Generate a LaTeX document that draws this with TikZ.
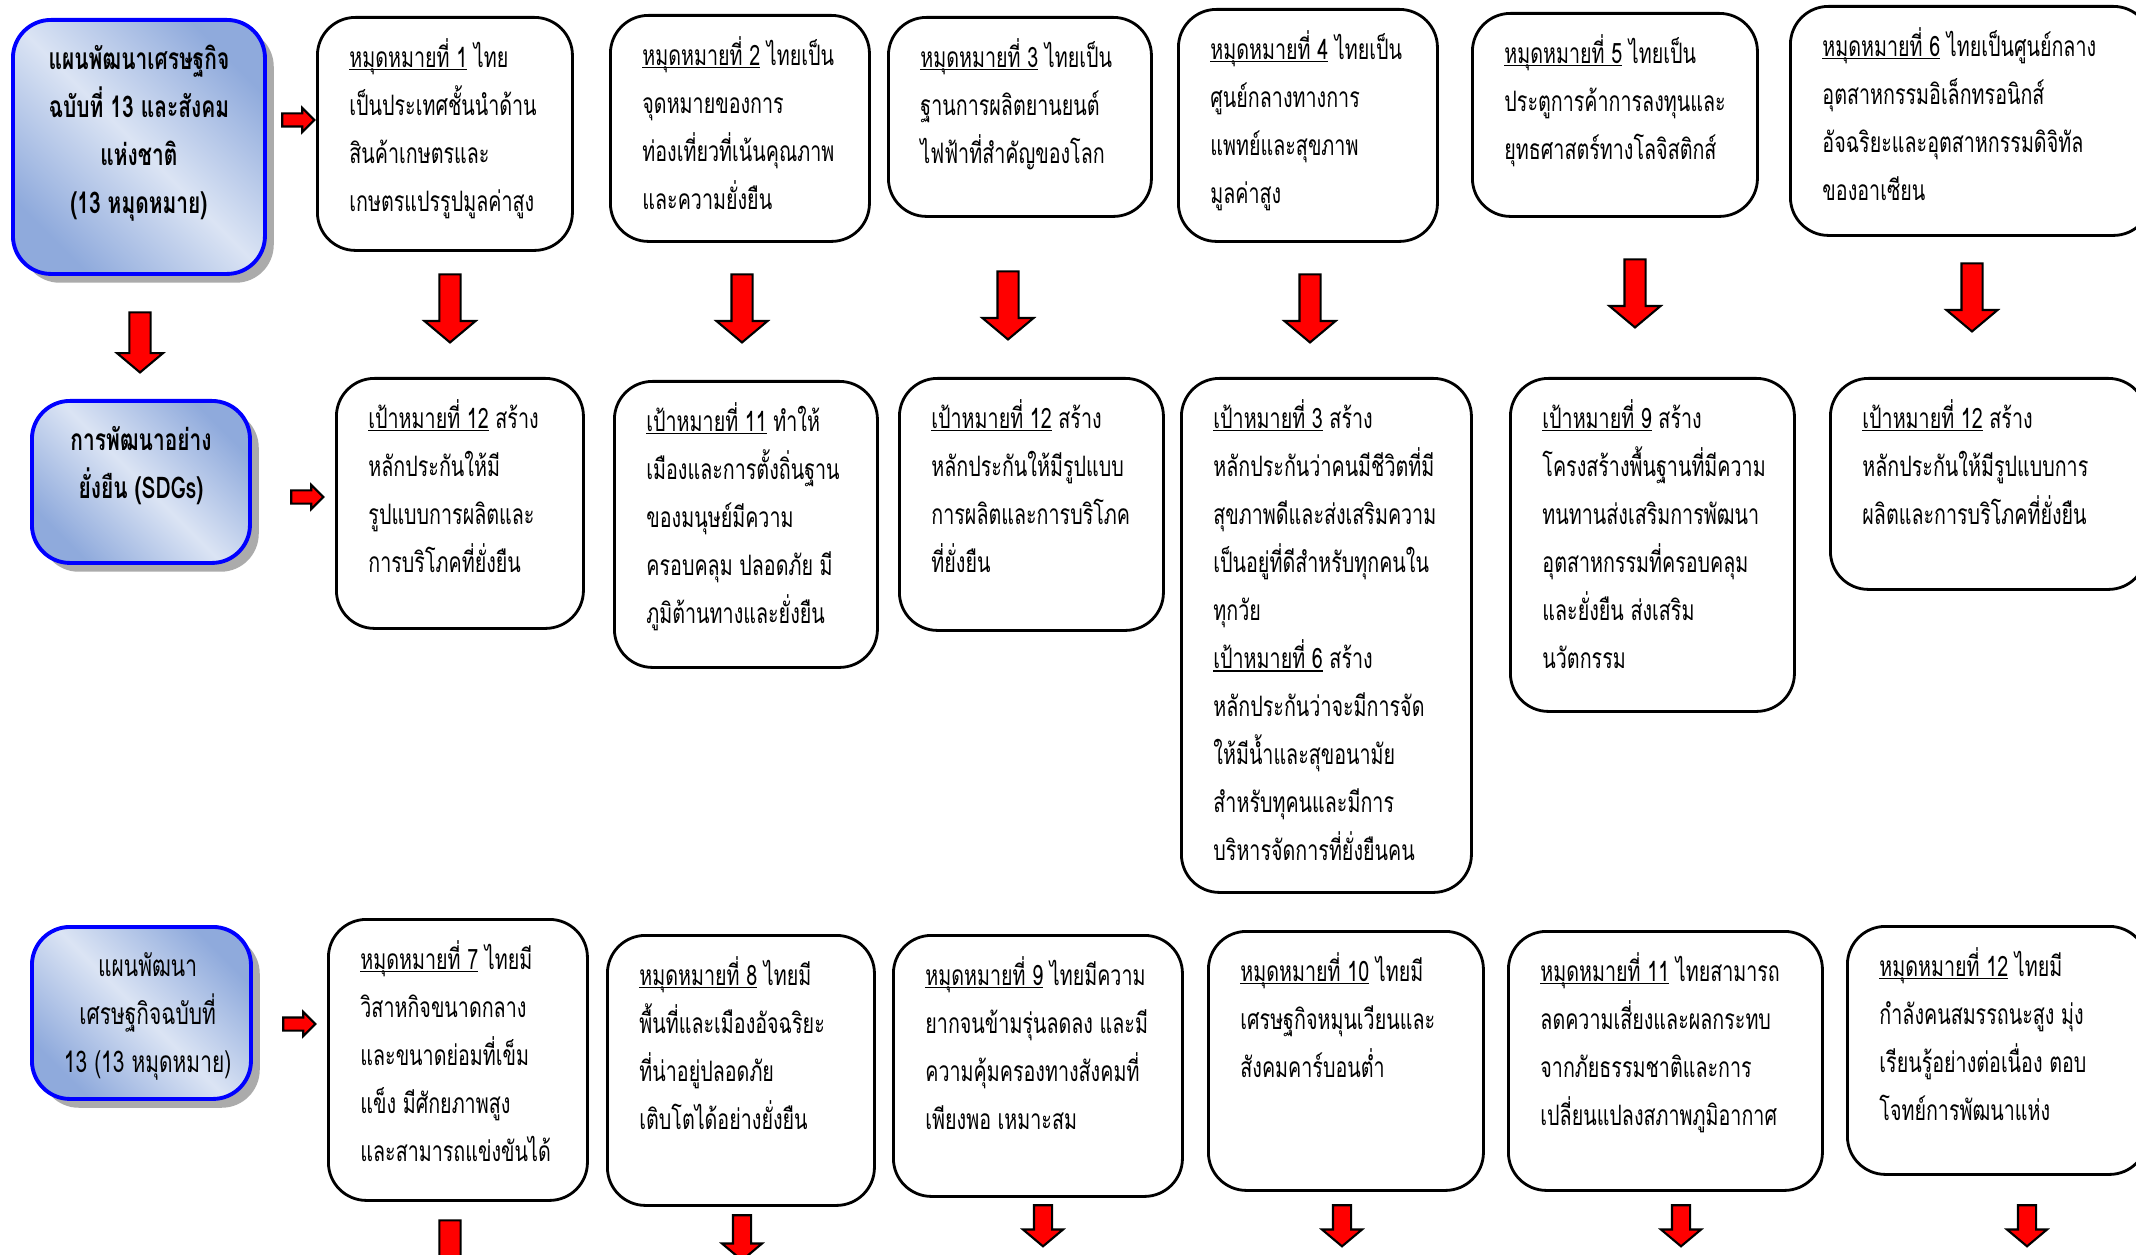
\documentclass[tikz,border=0pt]{standalone}
\usepackage{fontspec}
\setmainfont[Script=Thai, FakeStretch=0.7]{Loma}
\usetikzlibrary{shapes.arrows,shadows}

\definecolor{planblue}{RGB}{0,0,255}
\definecolor{shadedark}{RGB}{143,170,220}
\definecolor{shadelight}{RGB}{219,228,244}
\definecolor{arrowred}{RGB}{255,0,0}

\newlength{\pxu}
\setlength{\pxu}{0.01cm}

% box text: width, height (px), lines
\newcommand{\goaltext}[3]{\parbox[c][\dimexpr#2\pxu-32\pxu\relax][t]{\dimexpr#1\pxu-64\pxu\relax}{%
  \fontsize{8pt}{13.66pt}\selectfont\begin{tabular}[t]{@{}l@{}}#3\end{tabular}}}
\newcommand{\plantext}[3]{\parbox[c][\dimexpr#2\pxu-32\pxu\relax][t]{\dimexpr#1\pxu-64\pxu\relax}{%
  \centering\fontsize{8.5pt}{13.66pt}\selectfont\begin{tabular}[t]{@{}c@{}}#3\end{tabular}}}
\newcommand{\goalul}[1]{\setbox0\hbox{#1}\rlap{\rule[-0.12em]{\wd0}{0.06em}}\box0\relax}

\tikzset{
  goal/.style={draw, line width=0.8pt, rounded corners=0.38cm, anchor=north west,
    inner xsep=0.32cm, inner ysep=0.16cm},
  plan/.style={draw=planblue, line width=1.1pt, rounded corners=0.38cm, anchor=north west,
    inner xsep=0.32cm, inner ysep=0.16cm,
    top color=shadedark, bottom color=shadedark, middle color=shadelight, shading angle=-45,
    drop shadow={shadow xshift=2.5pt, shadow yshift=-2.5pt, fill=black!55, opacity=0.6}},
  downarr/.style={single arrow, draw, fill=arrowred, line width=0.6pt, rotate=-90,
    inner sep=0.095cm, minimum width=0.49cm, minimum height=0.68cm,
    single arrow head extend=0.15cm, single arrow tip angle=100},
  smallarr/.style={downarr, inner sep=0.08cm, minimum width=0.38cm, minimum height=0.41cm,
    single arrow head extend=0.11cm},
  rightarr/.style={single arrow, draw, fill=arrowred, line width=0.6pt,
    inner sep=0.055cm, minimum width=0.22cm, minimum height=0.32cm, single arrow head extend=0.055cm}
}

\begin{document}
\begin{tikzpicture}[x=0.01cm, y=-0.01cm]
  \useasboundingbox (0,0) rectangle (2136,1255);
  \fill[white] (0,0) rectangle (2136,1255);
  \clip (0,0) rectangle (2136,1255);

  % row 1: plan 13
  \node[plan] (plan1) at (11,18) {\plantext{252}{254}{\bfseries แผนพัฒนาเศรษฐกิจ\\ \bfseries ฉบับที่ 13 และสังคม\\ \bfseries แห่งชาติ\\ \bfseries (13 หมุดหมาย)}};
  \node[goal] (g1) at (316,16) {\goaltext{255}{233}{\goalul{หมุดหมายที่ 1} ไทย\\ เป็นประเทศชั้นนำด้าน\\ สินค้าเกษตรและ\\ เกษตรแปรรูปมูลค่าสูง}};
  \node[goal] (g2) at (609,14) {\goaltext{259}{226}{\goalul{หมุดหมายที่ 2} ไทยเป็น\\ จุดหมายของการ\\ ท่องเที่ยวที่เน้นคุณภาพ\\ และความยั่งยืน}};
  \node[goal] (g3) at (887,16) {\goaltext{263}{199}{\goalul{หมุดหมายที่ 3} ไทยเป็น\\ ฐานการผลิตยานยนต์\\ ไฟฟ้าที่สำคัญของโลก}};
  \node[goal] (g4) at (1177,8) {\goaltext{259}{232}{\goalul{หมุดหมายที่ 4} ไทยเป็น\\ ศูนย์กลางทางการ\\ แพทย์และสุขภาพ\\ มูลค่าสูง}};
  \node[goal] (g5) at (1471,12) {\goaltext{285}{203}{\goalul{หมุดหมายที่ 5} ไทยเป็น\\ ประตูการค้าการลงทุนและ\\ ยุทธศาสตร์ทางโลจิสติกส์}};
  \node[goal] (g6) at (1789,5) {\goaltext{361}{229}{\goalul{หมุดหมายที่ 6} ไทยเป็นศูนย์กลาง\\ อุตสาหกรรมอิเล็กทรอนิกส์\\ อัจฉริยะและอุตสาหกรรมดิจิทัล\\ ของอาเซียน}};

  % row 2: SDGs
  \node[plan] (plan2) at (30,399) {\plantext{218}{162}{\bfseries การพัฒนาอย่าง\\ \bfseries ยั่งยืน (SDGs)}};
  \node[goal] (s1) at (335,377) {\goaltext{247}{250}{\goalul{เป้าหมายที่ 12} สร้าง\\ หลักประกันให้มี\\ รูปแบบการผลิตและ\\ การบริโภคที่ยั่งยืน}};
  \node[goal] (s2) at (613,380) {\goaltext{263}{286}{\goalul{เป้าหมายที่ 11} ทำให้\\ เมืองและการตั้งถิ่นฐาน\\ ของมนุษย์มีความ\\ ครอบคลุม ปลอดภัย มี\\ ภูมิต้านทางและยั่งยืน}};
  \node[goal] (s3) at (898,377) {\goaltext{264}{252}{\goalul{เป้าหมายที่ 12} สร้าง\\ หลักประกันให้มีรูปแบบ\\ การผลิตและการบริโภค\\ ที่ยั่งยืน}};
  \node[goal] (s4) at (1180,377) {\goaltext{290}{514}{\goalul{เป้าหมายที่ 3} สร้าง\\ หลักประกันว่าคนมีชีวิตที่มี\\ สุขภาพดีและส่งเสริมความ\\ เป็นอยู่ที่ดีสำหรับทุกคนใน\\ ทุกวัย\\ \goalul{เป้าหมายที่ 6} สร้าง\\ หลักประกันว่าจะมีการจัด\\ ให้มีน้ำและสุขอนามัย\\ สำหรับทุคนและมีการ\\ บริหารจัดการที่ยั่งยืนคน}};
  \node[goal] (s5) at (1509,377) {\goaltext{284}{333}{\goalul{เป้าหมายที่ 9} สร้าง\\ โครงสร้างพื้นฐานที่มีความ\\ ทนทานส่งเสริมการพัฒนา\\ อุตสาหกรรมที่ครอบคลุม\\ และยั่งยืน ส่งเสริม\\ นวัตกรรม}};
  \node[goal] (s6) at (1829,377) {\goaltext{316}{211}{\goalul{เป้าหมายที่ 12} สร้าง\\ หลักประกันให้มีรูปแบบการ\\ ผลิตและการบริโภคที่ยั่งยืน}};

  % row 3: plan 13 goals 7-12
  \node[plan] (plan3) at (30,925) {\plantext{219}{172}{แผนพัฒนา\\ เศรษฐกิจฉบับที่\\ 13 (13 หมุดหมาย)}};
  \node[goal] (b1) at (327,918) {\goaltext{259}{281}{\goalul{หมุดหมายที่ 7} ไทยมี\\ วิสาหกิจขนาดกลาง\\ และขนาดย่อมที่เข็ม\\ แข็ง มีศักยภาพสูง\\ และสามารถแข่งขันได้}};
  \node[goal] (b2) at (606,934) {\goaltext{267}{270}{\goalul{หมุดหมายที่ 8} ไทยมี\\ พื้นที่และเมืองอัจฉริยะ\\ ที่น่าอยู่ปลอดภัย\\ เติบโตได้อย่างยั่งยืน}};
  \node[goal] (b3) at (892,934) {\goaltext{289}{261}{\goalul{หมุดหมายที่ 9} ไทยมีความ\\ ยากจนข้ามรุ่นลดลง และมี\\ ความคุ้มครองทางสังคมที่\\ เพียงพอ เหมาะสม}};
  \node[goal] (b4) at (1207,930) {\goaltext{275}{259}{\goalul{หมุดหมายที่ 10} ไทยมี\\ เศรษฐกิจหมุนเวียนและ\\ สังคมคาร์บอนต่ำ}};
  \node[goal] (b5) at (1507,930) {\goaltext{314}{259}{\goalul{หมุดหมายที่ 11} ไทยสามารถ\\ ลดความเสี่ยงและผลกระทบ\\ จากภัยธรรมชาติและการ\\ เปลี่ยนแปลงสภาพภูมิอากาศ}};
  \node[goal] (b6) at (1846,925) {\goaltext{300}{248}{\goalul{หมุดหมายที่ 12} ไทยมี\\ กำลังคนสมรรถนะสูง มุ่ง\\ เรียนรู้อย่างต่อเนื่อง ตอบ\\ โจทย์การพัฒนาแห่ง}};

  % block arrows
  \node[downarr, minimum height=0.6cm, minimum width=0.44cm, single arrow head extend=0.125cm] (d0) at (140,338) {};
  \node[rightarr] (r1) at (295,120) {};
  \node[rightarr] (r2) at (304,497) {};
  \node[rightarr] (r3) at (296,1024) {};

  \node[downarr] (d1) at (450,304) {};
  \node[downarr] (d2) at (742,304) {};
  \node[downarr] (d3) at (1008,301) {};
  \node[downarr] (d4) at (1310,304) {};
  \node[downarr] (d5) at (1635,289) {};
  \node[downarr] (d6) at (1972,293) {};

  \node[downarr, minimum height=0.6cm] (e1) at (450,1246) {};
  \node[smallarr, minimum height=0.45cm] (e2) at (742,1234) {};
  \node[smallarr] (e3) at (1043,1222) {};
  \node[smallarr] (e4) at (1342,1222) {};
  \node[smallarr] (e5) at (1681,1222) {};
  \node[smallarr] (e6) at (2027,1222) {};
\end{tikzpicture}
\end{document}
